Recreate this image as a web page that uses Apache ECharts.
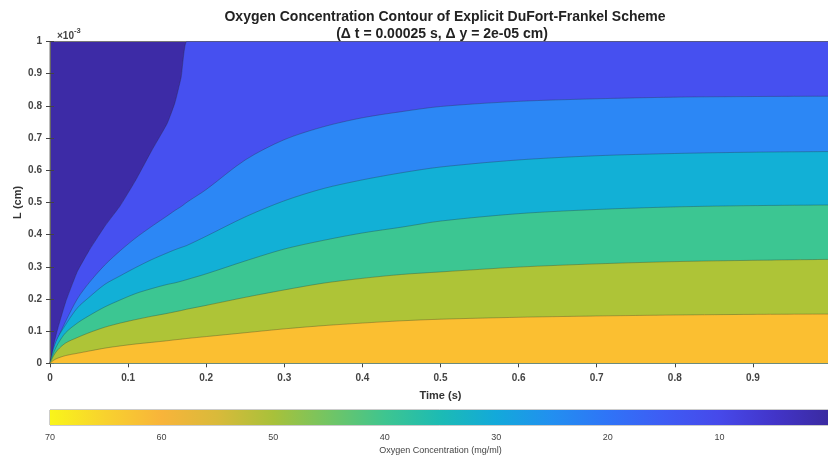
<!DOCTYPE html>
<html>
<head>
<meta charset="utf-8">
<script src="https://cdn.jsdelivr.net/npm/echarts@6/dist/echarts.min.js"></script>
<style>html,body{margin:0;padding:0;background:#fff;}#c{width:828px;height:461px;}</style>
</head>
<body>
<div id="c"></div>
<script>
// Time samples (s)
const times = [0, 0.005, 0.01, 0.02, 0.035, 0.05, 0.07, 0.09, 0.11, 0.13, 0.15, 0.16, 0.168, 0.175, 0.2, 0.25, 0.3, 0.35, 0.4, 0.45, 0.5, 0.6, 0.7, 0.8, 0.9, 1.0];
// Contour boundary heights (x 1e-3 cm) for each concentration level
const lvl10 = [0, 0.06, 0.108, 0.19, 0.285, 0.35, 0.425, 0.49, 0.57, 0.66, 0.745, 0.81, 0.89, 1.0, 1.0, 1.0, 1.0, 1.0, 1.0, 1.0, 1.0, 1.0, 1.0, 1.0, 1.0, 1.0];
const lvl20 = [0, 0.045, 0.078, 0.13, 0.2, 0.25, 0.305, 0.35, 0.39, 0.425, 0.458, 0.475, 0.487, 0.5, 0.54, 0.632, 0.695, 0.735, 0.763, 0.782, 0.798, 0.814, 0.822, 0.827, 0.829, 0.83];
const lvl30 = [0, 0.05, 0.08, 0.12, 0.172, 0.205, 0.245, 0.272, 0.298, 0.322, 0.343, 0.353, 0.36, 0.366, 0.395, 0.455, 0.505, 0.543, 0.57, 0.592, 0.61, 0.632, 0.645, 0.652, 0.656, 0.658];
const lvl40 = [0, 0.035, 0.06, 0.095, 0.125, 0.148, 0.175, 0.197, 0.217, 0.232, 0.245, 0.25, 0.255, 0.26, 0.278, 0.318, 0.355, 0.382, 0.405, 0.423, 0.442, 0.465, 0.478, 0.486, 0.49, 0.492];
const lvl50 = [0, 0.025, 0.042, 0.063, 0.08, 0.095, 0.112, 0.125, 0.136, 0.146, 0.155, 0.16, 0.164, 0.168, 0.18, 0.205, 0.228, 0.249, 0.264, 0.276, 0.284, 0.299, 0.309, 0.316, 0.32, 0.323];
const lvl60 = [0, 0.01, 0.016, 0.024, 0.031, 0.038, 0.047, 0.054, 0.06, 0.065, 0.07, 0.073, 0.075, 0.077, 0.083, 0.095, 0.107, 0.117, 0.125, 0.132, 0.137, 0.143, 0.147, 0.15, 0.152, 0.153];
const levels = [10, 20, 30, 40, 50, 60];
const levelData = [lvl10, lvl20, lvl30, lvl40, lvl50, lvl60];
const bandColors = ['#4650F0', '#2C87F5', '#12B0D6', '#3CC692', '#AEC437', '#FBBF31'];
const baseColor = '#3D2BA6';
// Colorbar
const cbRange = [0, 70];
const cbTicks = [0, 10, 20, 30, 40, 50, 60, 70];

const chart = echarts.init(document.getElementById('c'));
const txt = '#333';
const series = levels.map((lv, k) => ({
  type: 'line',
  name: String(lv),
  xAxisIndex: 0, yAxisIndex: 0,
  data: times.map((t, i) => [t, levelData[k][i]]),
  showSymbol: false,
  silent: true,
  smooth: k === 0 ? 0.15 : 0.3,
  z: 2 + k,
  lineStyle: { width: 0.6, color: 'rgba(40,40,40,0.5)' },
  areaStyle: { color: bandColors[k], opacity: 1, origin: 'start' }
}));
series.push({
  type: 'line',
  xAxisIndex: 2, yAxisIndex: 2,
  data: [[cbRange[0], 1], [cbRange[1], 1]],
  showSymbol: false, silent: true,
  lineStyle: { width: 0 },
  areaStyle: {
    opacity: 1, origin: 'start',
    color: new echarts.graphic.LinearGradient(0, 0, 1, 0, [
      { offset: 0.0, color: '#F9F51A' },
      { offset: 0.07, color: '#F8D22E' },
      { offset: 0.143, color: '#F8B43A' },
      { offset: 0.214, color: '#D9BA3A' },
      { offset: 0.286, color: '#A8C13A' },
      { offset: 0.357, color: '#72C564' },
      { offset: 0.429, color: '#3EC590' },
      { offset: 0.5, color: '#1CBBB4' },
      { offset: 0.571, color: '#13A9DA' },
      { offset: 0.643, color: '#228FF0' },
      { offset: 0.714, color: '#2F74F7' },
      { offset: 0.786, color: '#3E5CF4' },
      { offset: 0.857, color: '#4649EA' },
      { offset: 0.929, color: '#4234C8' },
      { offset: 1.0, color: '#3A2A9F' }
    ])
  }
});

const axisLine = { show: true, lineStyle: { color: '#666', width: 1 } };
const tick = { show: true, inside: true, length: 4, lineStyle: { color: '#444' } };

chart.setOption({
  animation: false,
  backgroundColor: '#fff',
  title: [
    { text: 'Oxygen Concentration Contour of Explicit DuFort-Frankel Scheme', left: 440, top: 5, textAlign: 'center',
      textStyle: { fontFamily: 'Liberation Sans', fontSize: 14, fontWeight: 'bold', color: '#222' } },
    { text: '(\u0394 t = 0.00025 s, \u0394 y = 2e-05 cm)', left: 437, top: 22, textAlign: 'center',
      textStyle: { fontFamily: 'Liberation Sans', fontSize: 14, fontWeight: 'bold', color: '#222' } },
    { text: '{a|\u00d710}{b|-3}', left: 52, top: 22,
      textStyle: { rich: { a: { fontFamily: 'Liberation Sans', fontSize: 10, color: '#444', padding: [4, 0, 0, 0] },
                           b: { fontFamily: 'Liberation Sans', fontSize: 7.5, color: '#444', verticalAlign: 'top' } } } }
  ],
  grid: [
    { left: 50, top: 41.5, width: 781, height: 321.8, show: true, backgroundColor: baseColor, borderColor: '#777', borderWidth: 1, outerBoundsMode: 'none', containLabel: false },
    { left: 50, top: 410, width: 781, height: 15, show: true, borderColor: '#999', borderWidth: 1, backgroundColor: 'transparent', outerBoundsMode: 'none', containLabel: false }
  ],
  xAxis: [
    { type: 'value', gridIndex: 0, min: 0, max: 1, interval: 0.1, position: 'bottom',
      name: 'Time (s)', nameLocation: 'middle', nameGap: 27, nameMoveOverlap: false,
      nameTextStyle: { fontFamily: 'Liberation Sans', fontSize: 11, fontWeight: 'bold', color: txt },
      axisLine: axisLine, axisTick: tick, splitLine: { show: false },
      axisLabel: { fontFamily: 'Liberation Sans', fontSize: 10, fontWeight: 'bold', color: '#444', margin: 10, showMaxLabel: true, showMinLabel: true, hideOverlap: false } },
    { type: 'value', gridIndex: 0, min: 0, max: 1, interval: 0.1, position: 'top',
      axisLine: axisLine, axisTick: tick, splitLine: { show: false }, axisLabel: { show: false } },
    { type: 'value', gridIndex: 1, min: cbRange[0], max: cbRange[1], interval: 10, inverse: true, position: 'bottom',
      name: 'Oxygen Concentration (mg/ml)', nameLocation: 'middle', nameGap: 21, nameMoveOverlap: false,
      nameTextStyle: { fontFamily: 'Liberation Sans', fontSize: 9, color: '#444' },
      axisLine: { show: false }, axisTick: { show: true, inside: true, length: 3, lineStyle: { color: '#555' } },
      splitLine: { show: false },
      axisLabel: { fontFamily: 'Liberation Sans', fontSize: 9, color: '#444', margin: 8, showMaxLabel: true, showMinLabel: true, hideOverlap: false,
        formatter: v => cbTicks.indexOf(v) >= 0 ? String(v) : '' } }
  ],
  yAxis: [
    { type: 'value', gridIndex: 0, min: 0, max: 1, interval: 0.1, position: 'left',
      name: 'L (cm)', nameLocation: 'middle', nameGap: 27, nameMoveOverlap: false,
      nameTextStyle: { fontFamily: 'Liberation Sans', fontSize: 11, fontWeight: 'bold', color: txt },
      axisLine: axisLine, axisTick: tick, splitLine: { show: false },
      axisLabel: { fontFamily: 'Liberation Sans', fontSize: 10, fontWeight: 'bold', color: '#444', margin: 8 } },
    { type: 'value', gridIndex: 0, min: 0, max: 1, interval: 0.1, position: 'right',
      axisLine: axisLine, axisTick: tick, splitLine: { show: false }, axisLabel: { show: false } },
    { type: 'value', gridIndex: 1, min: 0, max: 1, show: false }
  ],
  series: series
});
</script>
</body>
</html>
